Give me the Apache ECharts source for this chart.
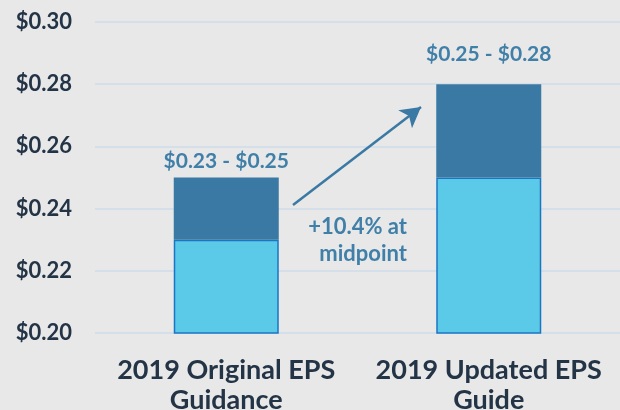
<!DOCTYPE html>
<html>
<head>
<meta charset="utf-8">
<script src="https://cdn.jsdelivr.net/npm/echarts@6/dist/echarts.min.js"></script>
<style>
  html, body { margin: 0; padding: 0; background: #e8e8e8; }
  #chart { width: 620px; height: 410px; }
</style>
</head>
<body>
<div id="chart"></div>
<script>
// guidance ranges
const categories = ['2019 Original EPS\nGuidance', '2019 Updated EPS\nGuide'];
const rangeLow = [0.23, 0.25];
const rangeHigh = [0.25, 0.28];
const rangeLabels = ['$0.23 - $0.25', '$0.25 - $0.28'];
const yTicks = [0.20, 0.22, 0.24, 0.26, 0.28, 0.30];
const noteLines = ['+10.4% at', 'midpoint'];

const FONT = 'Lato';
// the range labels don't sit at the same gap above each bar
const labelGap = [6, 19];

const chart = echarts.init(document.getElementById('chart'));

chart.setOption({
  backgroundColor: '#e8e8e8',
  animation: false,
  grid: { left: 95, right: 0, top: 22, bottom: 77, containLabel: false, outerBoundsMode: 'none' },
  xAxis: {
    type: 'category',
    data: categories,
    axisLine: { show: false },
    axisTick: { show: false },
    axisLabel: {
      interval: 0,
      hideOverlap: false,
      color: '#243447',
      fontFamily: FONT,
      fontWeight: 'bold',
      fontSize: 27,
      lineHeight: 30,
      margin: 22
    }
  },
  yAxis: {
    type: 'value',
    min: yTicks[0],
    max: yTicks[yTicks.length - 1],
    interval: 0.02,
    axisLine: { show: false },
    axisTick: { show: false },
    splitLine: { lineStyle: { color: '#d5dfe9', width: 2 } },
    axisLabel: {
      color: '#243447',
      fontFamily: FONT,
      fontWeight: 'bold',
      fontSize: 22,
      margin: 23,
      formatter: v => '$' + v.toFixed(2)
    }
  },
  series: [
    {
      type: 'bar',
      stack: 'eps',
      barWidth: '40%',
      data: rangeLow,
      itemStyle: { color: '#5bc9e8', borderColor: '#1a76c4', borderWidth: 1.5 }
    },
    {
      type: 'bar',
      stack: 'eps',
      data: rangeHigh.map((h, i) => ({
        value: +(h - rangeLow[i]).toFixed(4),
        label: { distance: labelGap[i] }
      })),
      itemStyle: { color: '#3a79a3' },
      label: {
        show: true,
        position: 'top',
        color: '#3f7fa8',
        fontFamily: FONT,
        fontWeight: 'bold',
        fontSize: 21,
        formatter: p => rangeLabels[p.dataIndex]
      },
      markLine: {
        silent: true,
        symbol: ['none', 'arrow'],
        symbolSize: [17, 20],
        label: { show: false },
        lineStyle: { color: '#3a79a3', width: 2.5, type: 'solid' },
        data: [[{ x: 293, y: 205 }, { x: 421, y: 107 }]]
      }
    }
  ],
  // annotation, each line flush right
  graphic: noteLines.map((t, i) => ({
    type: 'text',
    right: 213,
    top: 216 + i * 27,
    style: {
      text: t,
      fill: '#3f7fa8',
      font: 'bold 22px Lato'
    }
  }))
});
</script>
</body>
</html>
